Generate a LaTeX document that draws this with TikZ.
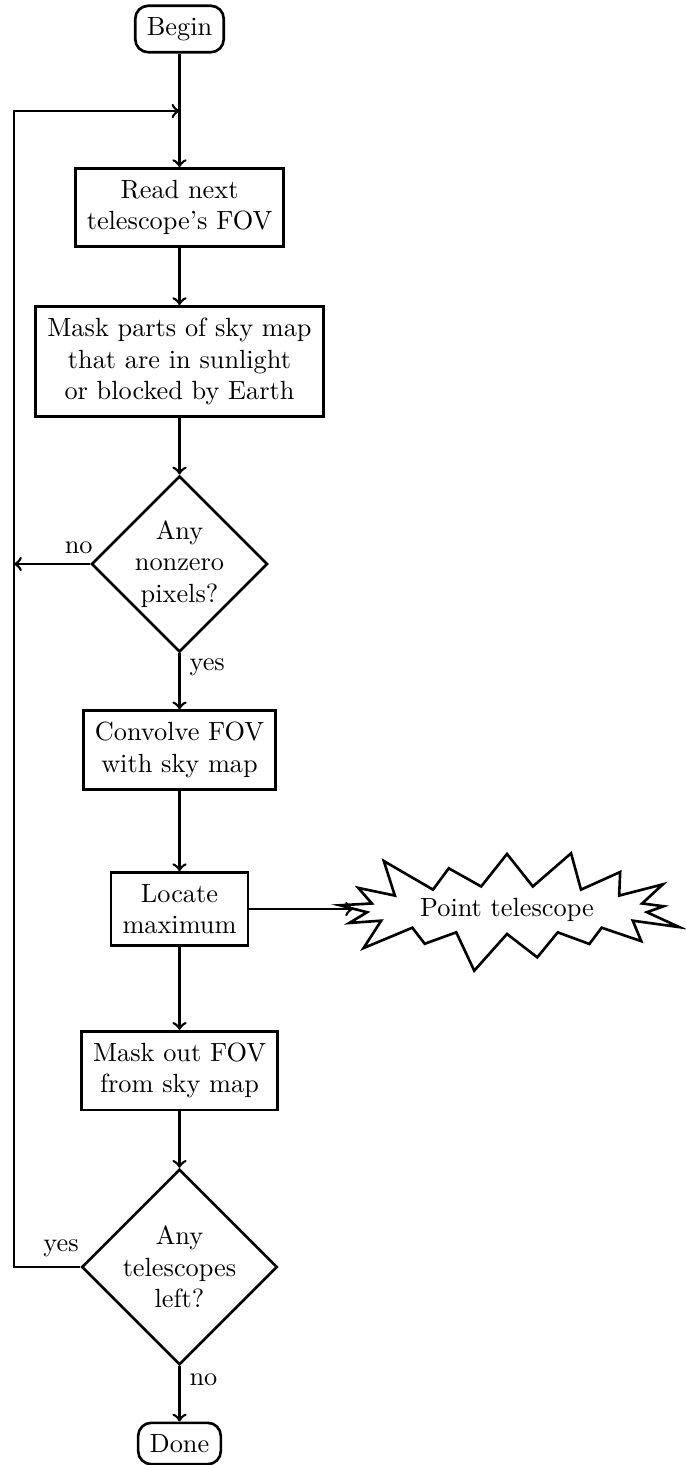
\documentclass[tikz,border=0pt]{standalone}
\usetikzlibrary{shapes.geometric,shapes.symbols}
\tikzset{
  base/.style={draw, line width=1pt, inner sep=4.4pt, align=center, fill=white},
  term/.style={base, rounded corners=5pt},
  proc/.style={base},
  decide/.style={base, diamond, aspect=1, inner sep=0pt},
  burst/.style={base, starburst, starburst points=17, starburst point height=0.6cm, inner sep=2pt},
  conn/.style={line width=1pt, ->},
  lbl/.style={inner sep=3.33pt}
}
\begin{document}
\begin{tikzpicture}[x=0.3802pt, y=-0.3802pt]
\useasboundingbox (0,0) rectangle (685,1465);
\node[term] (begin) at (179.5,29) {Begin};
\coordinate (join) at (179.5,111);
\coordinate (rail) at (14,0);
\node[proc] (read) at (179.5,207.5) {Read next\\telescope's FOV};
\node[proc] (mask) at (179.5,361.5) {Mask parts of sky map\\that are in sunlight\\or blocked by Earth};
\node[decide, minimum width=67pt, minimum height=67pt] (d1) at (179.5,564) {Any\\nonzero\\pixels?};
\node[proc] (conv) at (179.5,750) {Convolve FOV\\with sky map};
\node[proc] (loc) at (179.5,909) {Locate\\maximum};
\node[burst, minimum width=141pt, minimum height=49pt] (point) at (507,910) {Point telescope};
\node[proc] (maskout) at (179.5,1070.5) {Mask out FOV\\from sky map};
\node[decide, minimum width=74.3pt, minimum height=74.3pt] (d2) at (179.5,1267) {Any\\telescopes\\left?};
\node[term] (done) at (179.5,1443.5) {Done};

\draw[conn] (begin) -- (read);
\draw[conn] (read) -- (mask);
\draw[conn] (mask) -- (d1);
\draw[conn] (d1) -- node[lbl, right, pos=0.25] {yes} (conv);
\draw[conn] (d1.west) -- node[lbl, above, pos=0.15] {no} (d1.west -| rail);
\draw[conn] (conv) -- (loc);
\draw[conn] (loc.east) -- (loc.east -| point.west);
\draw[conn] (loc) -- (maskout);
\draw[conn] (maskout) -- (d2);
\draw[conn] (d2) -- node[lbl, right, pos=0.25] {no} (done);
\draw[conn] (d2.west) -- node[lbl, above, pos=0.29] {yes} (d2.west -| rail) |- (join);
\end{tikzpicture}
\end{document}
